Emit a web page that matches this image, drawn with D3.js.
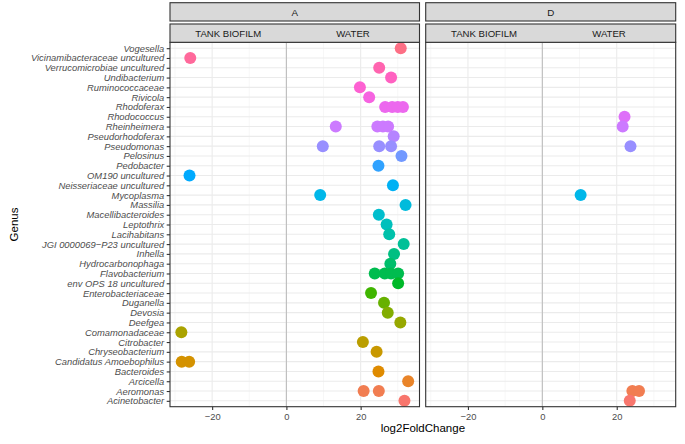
<!DOCTYPE html>
<html><head><meta charset="utf-8">
<script src="https://cdn.jsdelivr.net/npm/d3@7"></script>
<style>body{margin:0;background:#fff}svg{display:block}text{font-family:"Liberation Sans",Arial,sans-serif}</style>
</head><body><div id="chart"></div>
<script>
const genera = ["Acinetobacter","Aeromonas","Arcicella","Bacteroides","Candidatus Amoebophilus","Chryseobacterium","Citrobacter","Comamonadaceae","Deefgea","Devosia","Duganella","Enterobacteriaceae","env OPS 18 uncultured","Flavobacterium","Hydrocarbonophaga","Inhella","JGI 0000069\u2212P23 uncultured","Lacihabitans","Leptothrix","Macellibacteroides","Massilia","Mycoplasma","Neisseriaceae uncultured","OM190 uncultured","Pedobacter","Pelosinus","Pseudomonas","Pseudorhodoferax","Rheinheimera","Rhodococcus","Rhodoferax","Rivicola","Ruminococcaceae","Undibacterium","Verrucomicrobiae uncultured","Vicinamibacteraceae uncultured","Vogesella"];
const panels = ["A","D"];
const sides = ["TANK BIOFILM","WATER"];
const xTicks = [-20,0,20];
const xMinor = [-30,-10,10,30];
// [genus, log2FoldChange]
const pointsA = [
 ["Vogesella",30.8],["Vicinamibacteraceae uncultured",-25.9],["Verrucomicrobiae uncultured",25.0],
 ["Undibacterium",28.2],["Ruminococcaceae",19.8],["Rivicola",22.3],
 ["Rhodoferax",26.6],["Rhodoferax",28.5],["Rhodoferax",30.0],["Rhodoferax",31.4],
 ["Rheinheimera",13.3],["Rheinheimera",24.5],["Rheinheimera",26.0],["Rheinheimera",27.4],
 ["Pseudorhodoferax",28.9],["Pseudomonas",9.8],["Pseudomonas",25.0],["Pseudomonas",28.2],
 ["Pelosinus",31.0],["Pedobacter",24.8],["OM190 uncultured",-26.1],["Neisseriaceae uncultured",28.7],
 ["Mycoplasma",9.1],["Massilia",32.1],["Macellibacteroides",24.9],["Leptothrix",27.0],
 ["Lacihabitans",27.7],["JGI 0000069\u2212P23 uncultured",31.6],["Inhella",29.0],["Hydrocarbonophaga",28.0],
 ["Flavobacterium",23.8],["Flavobacterium",26.5],["Flavobacterium",28.2],["Flavobacterium",30.1],
 ["env OPS 18 uncultured",30.1],["Enterobacteriaceae",22.8],["Duganella",26.3],["Devosia",27.3],
 ["Deefgea",30.7],["Comamonadaceae",-28.3],["Citrobacter",20.6],["Chryseobacterium",24.3],
 ["Candidatus Amoebophilus",-28.2],["Candidatus Amoebophilus",-26.2],["Bacteroides",24.8],
 ["Arcicella",32.8],["Aeromonas",20.8],["Aeromonas",24.9],["Acinetobacter",31.8]
];
const pointsD = [
 ["Rhodococcus",22.1],["Rheinheimera",21.6],["Pseudomonas",23.7],["Mycoplasma",10.3],
 ["Aeromonas",24.2],["Aeromonas",26.0],["Acinetobacter",23.5]
];

// ggplot-like hue palette (polar LUV)
function hclLuv(h,c,l){
  const hr=h*Math.PI/180, U=c*Math.cos(hr), V=c*Math.sin(hr);
  const Y=100*(l>7.999592?Math.pow((l+16)/116,3):l/903.3);
  const un=0.1978398, vn=0.4683363;
  const u=U/(13*l)+un, v=V/(13*l)+vn;
  const X=9*Y*u/(4*v), Z=-X/3-5*Y+3*Y/v;
  const g=t=>{t=t>0.00304?1.055*Math.pow(t,1/2.4)-0.055:12.92*t;return Math.round(255*Math.max(0,Math.min(1,t)));};
  const r=g((3.240479*X-1.537150*Y-0.498535*Z)/100);
  const gg=g((-0.969256*X+1.875992*Y+0.041556*Z)/100);
  const b=g((0.055648*X-0.204043*Y+1.057311*Z)/100);
  return d3.rgb(r,gg,b).formatHex();
}
const color=d3.scaleOrdinal().domain(genera).range(genera.map((g,i)=>hclLuv(15+360*i/genera.length,100,65)));

const W=685,H=444;
const svg=d3.select("#chart").append("svg").attr("width",W).attr("height",H);
const pTop=42.3,pBottom=406.7;
const panelX=[[170,419.5],[425.7,675.7]];
const allVals=pointsA.concat(pointsD).map(d=>d[1]);
const lo=d3.min(allVals),hi=d3.max(allVals),ex=(hi-lo)*0.05;
const y=d3.scalePoint().domain(genera).range([pBottom,pTop]).padding(0.6);
const data=[pointsA,pointsD];

panels.forEach((p,pi)=>{
  const [x0,x1]=panelX[pi];
  const x=d3.scaleLinear().domain([lo-ex,hi+ex]).range([x0,x1]);
  const g=svg.append("g");
  g.selectAll(".mn").data(xMinor).enter().append("line").attr("x1",d=>x(d)).attr("x2",d=>x(d)).attr("y1",pTop).attr("y2",pBottom).attr("stroke","#F2F2F2").attr("stroke-width",0.6);
  g.selectAll(".mj").data(xTicks).enter().append("line").attr("x1",d=>x(d)).attr("x2",d=>x(d)).attr("y1",pTop).attr("y2",pBottom).attr("stroke","#EBEBEB").attr("stroke-width",1.1);
  g.selectAll(".hy").data(genera).enter().append("line").attr("x1",x0).attr("x2",x1).attr("y1",d=>y(d)).attr("y2",d=>y(d)).attr("stroke","#EBEBEB").attr("stroke-width",1.1);
  g.append("line").attr("x1",x(0)).attr("x2",x(0)).attr("y1",pTop).attr("y2",pBottom).attr("stroke","#BEBEBE").attr("stroke-width",1.1);
  g.selectAll("circle").data(data[pi]).enter().append("circle")
    .attr("cx",d=>x(d[1])).attr("cy",d=>y(d[0])).attr("r",6).attr("fill",d=>color(d[0]));
  g.append("rect").attr("x",x0).attr("y",pTop).attr("width",x1-x0).attr("height",pBottom-pTop).attr("fill","none").attr("stroke","#333333").attr("stroke-width",1.1);
  const ax=svg.append("g").attr("transform",`translate(0,${pBottom})`).call(d3.axisBottom(x).tickValues(xTicks).tickSize(3.3).tickPadding(3).tickFormat(d3.format("d")));
  ax.select(".domain").remove();
  ax.selectAll(".tick line").attr("stroke","#333333").attr("stroke-width",1.1);
  ax.selectAll(".tick text").attr("fill","#4D4D4D").style("font-size","9.4px").style("font-family","Liberation Sans, Arial, sans-serif");
  svg.append("rect").attr("x",x0).attr("y",2.7).attr("width",x1-x0).attr("height",18.3).attr("fill","#D9D9D9").attr("stroke","#333333").attr("stroke-width",1.1);
  svg.append("text").attr("x",(x0+x1)/2).attr("y",15.5).attr("text-anchor","middle").attr("fill","#1A1A1A").style("font-size","9.8px").text(p);
  svg.append("rect").attr("x",x0).attr("y",24).attr("width",x1-x0).attr("height",18.3).attr("fill","#D9D9D9").attr("stroke","#333333").attr("stroke-width",1.1);
  const mids=[(x.domain()[0]+0)/2,(0+x.domain()[1])/2];
  sides.forEach((s,si)=>{
    svg.append("text").attr("x",x(mids[si])).attr("y",36.8).attr("text-anchor","middle").attr("fill","#1A1A1A").style("font-size","9.6px").text(s);
  });
});
const ay=svg.append("g").attr("transform",`translate(${panelX[0][0]},0)`).call(d3.axisLeft(y).tickSize(3.3).tickPadding(2.5));
ay.select(".domain").remove();
ay.selectAll(".tick line").attr("stroke","#333333").attr("stroke-width",1.1);
ay.selectAll(".tick text").attr("fill","#4D4D4D").style("font-size","9.4px").style("font-style","italic").style("font-family","Liberation Sans, Arial, sans-serif");
svg.append("text").attr("x",(panelX[0][0]+panelX[1][1])/2).attr("y",432).attr("text-anchor","middle").attr("fill","#000").style("font-size","11.5px").text("log2FoldChange");
svg.append("text").attr("transform",`translate(17.5,${(pTop+pBottom)/2}) rotate(-90)`).attr("text-anchor","middle").attr("fill","#000").style("font-size","11.5px").text("Genus");
</script></body></html>
